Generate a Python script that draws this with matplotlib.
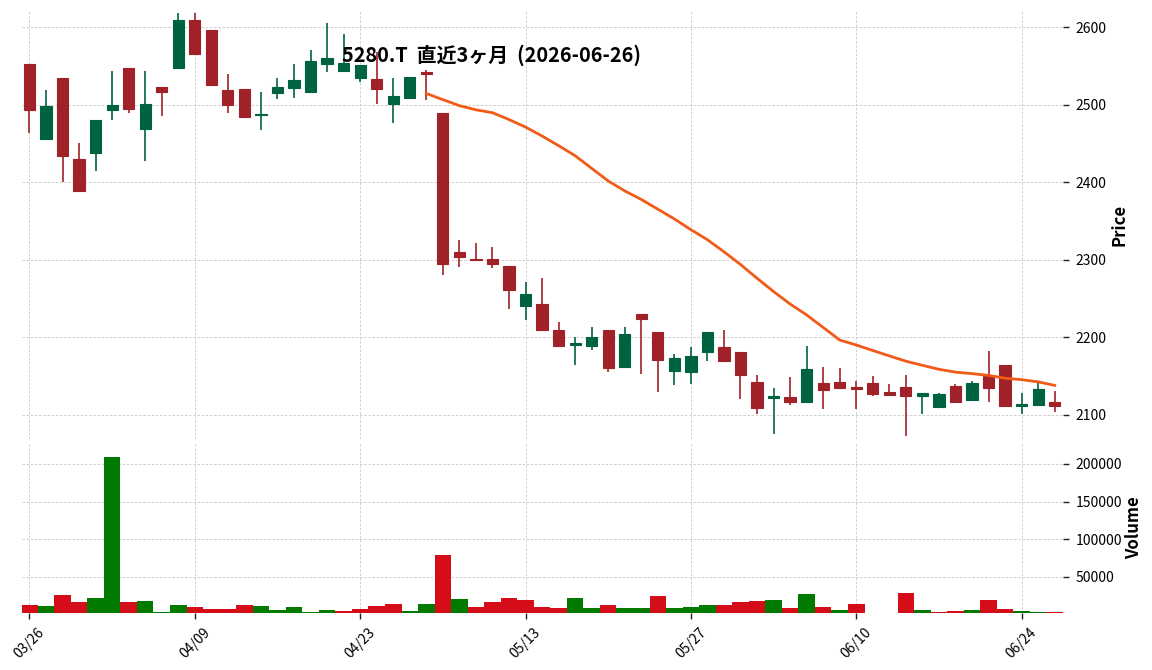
import matplotlib
matplotlib.use("Agg")
import matplotlib.pyplot as plt
import numpy as np
import pandas as pd

title : str = "5280.T  直近3ヶ月  (2026-06-26)"

dates : list[str] = [
    "03/26", "03/27", "03/30", "03/31", "04/01", "04/02", "04/03", "04/06", "04/07", "04/08",
    "04/09", "04/10", "04/13", "04/14", "04/15", "04/16", "04/17", "04/20", "04/21", "04/22",
    "04/23", "04/24", "04/27", "04/28", "04/30", "05/01", "05/07", "05/08", "05/11", "05/12",
    "05/13", "05/14", "05/15", "05/18", "05/19", "05/20", "05/21", "05/22", "05/25", "05/26",
    "05/27", "05/28", "05/29", "06/01", "06/02", "06/03", "06/04", "06/05", "06/08", "06/09",
    "06/10", "06/11", "06/12", "06/15", "06/16", "06/17", "06/18", "06/19", "06/22", "06/23",
    "06/24", "06/25", "06/26",
]

opens : list[float] = [
    2552, 2456, 2535, 2430, 2438, 2493, 2548, 2469, 2523, 2547,
    2609, 2596, 2519, 2520, 2487, 2515, 2522, 2516, 2553, 2544,
    2535, 2533, 2501, 2509, 2542, 2490, 2310, 2301, 2301, 2292,
    2240, 2243, 2210, 2190, 2189, 2210, 2162, 2230, 2207, 2157,
    2155, 2181, 2188, 2181, 2143, 2122, 2123, 2117, 2141, 2143,
    2136, 2141, 2130, 2136, 2125, 2110, 2137, 2119, 2150, 2165,
    2112, 2113, 2117,
]
highs : list[float] = [
    2552, 2519, 2535, 2451, 2481, 2544, 2548, 2544, 2523, 2618,
    2618, 2596, 2540, 2521, 2516, 2534, 2553, 2571, 2606, 2591,
    2551, 2568, 2535, 2536, 2545, 2490, 2326, 2322, 2317, 2292,
    2271, 2276, 2220, 2201, 2214, 2210, 2214, 2230, 2207, 2178,
    2187, 2207, 2210, 2181, 2152, 2135, 2149, 2189, 2162, 2160,
    2144, 2150, 2140, 2152, 2128, 2128, 2140, 2144, 2182, 2165,
    2128, 2141, 2131,
]
lows : list[float] = [
    2464, 2456, 2400, 2389, 2415, 2481, 2490, 2427, 2485, 2547,
    2565, 2526, 2490, 2484, 2467, 2507, 2509, 2516, 2542, 2544,
    2529, 2501, 2477, 2509, 2506, 2280, 2291, 2300, 2289, 2236,
    2222, 2209, 2189, 2165, 2184, 2155, 2162, 2153, 2130, 2138,
    2140, 2170, 2169, 2120, 2101, 2075, 2113, 2117, 2108, 2135,
    2108, 2124, 2126, 2073, 2101, 2110, 2117, 2118, 2117, 2111,
    2101, 2113, 2104,
]
closes : list[float] = [
    2493, 2498, 2434, 2389, 2481, 2500, 2495, 2501, 2517, 2609,
    2566, 2526, 2500, 2484, 2488, 2523, 2532, 2556, 2561, 2554,
    2551, 2520, 2511, 2536, 2540, 2295, 2304, 2300, 2295, 2261,
    2256, 2209, 2189, 2193, 2201, 2160, 2205, 2224, 2171, 2174,
    2176, 2207, 2169, 2151, 2109, 2124, 2117, 2159, 2132, 2135,
    2134, 2127, 2126, 2125, 2128, 2127, 2117, 2141, 2135, 2111,
    2114, 2133, 2111,
]
# 06/11 and 06/12 have no volume in the source
volumes : list[float] = [
    12900, 11500, 26100, 16800, 22100, 209100, 16800, 18100, 3600, 12900,
    10200, 7600, 7600, 12900, 11500, 6200, 10200, 3600, 6200, 4900,
    7600, 11500, 14200, 4900, 14200, 79200, 20800, 10200, 16800, 22100,
    19500, 10200, 8900, 22100, 8900, 12900, 8900, 8900, 24800, 8900,
    10200, 12900, 12900, 16800, 18100, 19500, 8900, 27400, 10200, 6200,
    14200, np.nan, np.nan, 28700, 6200, 3600, 4900, 6200, 19500, 7600,
    4900, 3600, 3600,
]
maWindow : int = 25

upColor = "#006340"
downColor = "#A02128"
volUpColor = "#007a00"
volDownColor = "#d50d18"
maColor = "#f25a18"
gridColor = "#c8c8c8"


def style_axis(ax) -> None:
    for spine in ax.spines.values():
        spine.set_visible(False)
    ax.yaxis.tick_right()
    ax.yaxis.set_label_position("right")
    ax.grid(True, linestyle=(0, (3, 2)), color=gridColor, linewidth=0.6)
    ax.set_axisbelow(True)
    ax.tick_params(axis="both", length=4, width=1, color="#222222", labelsize=10, pad=5)


def draw_candles(ax, o : np.ndarray, h : np.ndarray, l : np.ndarray, c : np.ndarray) -> None:
    x = np.arange(len(o))
    colors = np.where(c >= o, upColor, downColor)
    ax.vlines(x, l, h, colors=colors, linewidth=1.2, zorder=2)
    ax.bar(x, np.abs(c - o), width=0.68, bottom=np.minimum(o, c), color=colors,
           edgecolor=colors, linewidth=0.8, zorder=3)


def draw_volume(ax, c : np.ndarray, o : np.ndarray, v : np.ndarray) -> None:
    x = np.arange(len(v))
    prevClose = np.concatenate(([o[0]], c[:-1]))
    colors = np.where(c >= prevClose, volUpColor, volDownColor)
    ok = ~np.isnan(v)
    ax.bar(x[ok], v[ok], width=1.0, color=colors[ok], linewidth=0, zorder=2)


plt.rcParams["font.family"] = ["Noto Sans CJK JP", "DejaVu Sans"]

o = np.array(opens, dtype=float)
h = np.array(highs, dtype=float)
l = np.array(lows, dtype=float)
c = np.array(closes, dtype=float)
v = np.array(volumes, dtype=float)
ma = pd.Series(c).rolling(maWindow).mean()

fig = plt.figure(figsize=(11.52, 6.70), dpi=100)
axPrice = fig.add_axes([0.0191, 0.3448, 0.9036, 0.6388])
axVol = fig.add_axes([0.0191, 0.0851, 0.9036, 0.2552], sharex=axPrice)

style_axis(axPrice)
style_axis(axVol)

draw_candles(axPrice, o, h, l, c)
axPrice.plot(np.arange(len(c)), ma, color=maColor, linewidth=2, zorder=4)
draw_volume(axVol, c, o, v)

axPrice.set_xlim(-0.45, len(c) - 0.5)
axPrice.set_ylim(2069, 2621)
axPrice.set_yticks([2100, 2200, 2300, 2400, 2500, 2600])
axPrice.tick_params(axis="x", bottom=False, labelbottom=False)
axPrice.set_ylabel("Price", fontsize=12, fontweight="bold", labelpad=3)

axVol.set_ylim(2250, 229000)
axVol.set_yticks([50000, 100000, 150000, 200000])
axVol.set_xticks(range(0, len(dates), 10))
axVol.set_xticklabels(dates[::10], rotation=45, ha="center")
axVol.set_ylabel("Volume", fontsize=12, fontweight="bold", labelpad=2)

fig.text(491 / 1152, 1 - 55 / 670, title, ha="center", va="center", fontsize=14.3, fontweight="bold")

fig.savefig("out.png", dpi=100)
